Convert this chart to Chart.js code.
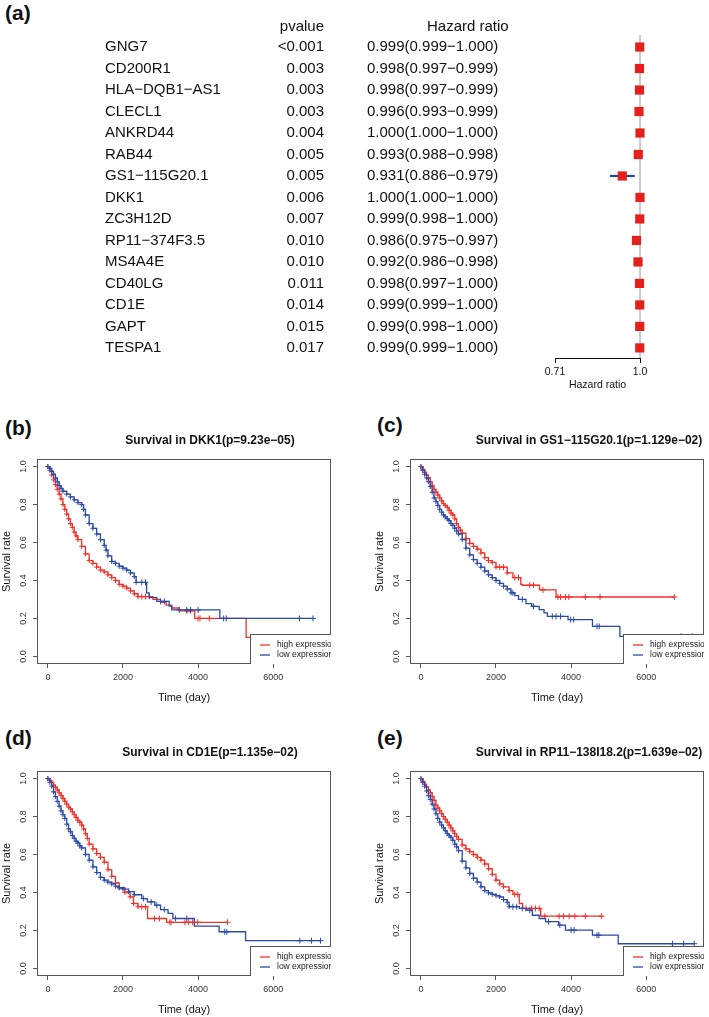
<!DOCTYPE html>
<html>
<head>
<meta charset="utf-8">
<script src="https://cdn.jsdelivr.net/npm/chart.js@4.4.1/dist/chart.umd.min.js"></script>
<style>
body{margin:0;width:709px;height:1017px;overflow:hidden;background:#fff;position:relative;font-family:"Liberation Sans",Arial,sans-serif}
canvas{position:absolute}
.lab{position:absolute;font-weight:bold;font-size:21px;line-height:1;color:#111}
</style>
</head>
<body>
<div class="lab" style="left:5px;top:2px">(a)</div>
<div class="lab" style="left:5px;top:417px">(b)</div>
<div class="lab" style="left:377px;top:414px">(c)</div>
<div class="lab" style="left:5px;top:727px">(d)</div>
<div class="lab" style="left:377px;top:727px">(e)</div>
<canvas id="forest" width="709" height="395" style="left:0;top:0"></canvas>
<canvas id="kmB" width="336" height="294" style="left:0;top:415px"></canvas>
<canvas id="kmC" width="336" height="294" style="left:373px;top:415px"></canvas>
<canvas id="kmD" width="336" height="294" style="left:0;top:727px"></canvas>
<canvas id="kmE" width="336" height="294" style="left:373px;top:727px"></canvas>
<script>
// ---- forest plot data (a) ----
const genes = ['GNG7', 'CD200R1', 'HLA\u2212DQB1\u2212AS1', 'CLECL1', 'ANKRD44', 'RAB44', 'GS1\u2212115G20.1',
  'DKK1', 'ZC3H12D', 'RP11\u2212374F3.5', 'MS4A4E', 'CD40LG', 'CD1E', 'GAPT', 'TESPA1'];
const pvalues = ['<0.001', '0.003', '0.003', '0.003', '0.004', '0.005', '0.005',
  '0.006', '0.007', '0.010', '0.010', '0.011', '0.014', '0.015', '0.017'];
const hr = [0.999, 0.998, 0.998, 0.996, 1.000, 0.993, 0.931, 1.000, 0.999, 0.986, 0.992, 0.998, 0.999, 0.999, 0.999];
const hrLow = [0.999, 0.997, 0.997, 0.993, 1.000, 0.988, 0.886, 1.000, 0.998, 0.975, 0.986, 0.997, 0.999, 0.998, 0.999];
const hrHigh = [1.000, 0.999, 0.999, 0.999, 1.000, 0.998, 0.979, 1.000, 1.000, 0.997, 0.998, 1.000, 1.000, 1.000, 1.000];
const hrTicks = [0.71, 1.0];
const hrTickLabels = ['0.71', '1.0'];

// ---- survival curves: [time, survival] ----
const kmTimeTicks = [0, 2000, 4000, 6000];
const kmRateTicks = [0, 0.2, 0.4, 0.6, 0.8, 1.0];

const dkk1High = [[0,1],[50,0.98],[100,0.955],[150,0.93],[200,0.905],[250,0.88],[300,0.855],[350,0.83],[400,0.80],[450,0.775],[500,0.75],[550,0.725],[600,0.70],[650,0.68],[700,0.655],[750,0.635],[800,0.615],[900,0.58],[1000,0.54],[1100,0.505],[1200,0.49],[1300,0.47],[1400,0.455],[1500,0.445],[1600,0.43],[1700,0.415],[1800,0.40],[1900,0.38],[2000,0.37],[2100,0.36],[2200,0.345],[2300,0.33],[2400,0.315],[2800,0.30],[3000,0.285],[3150,0.27],[3300,0.255],[3500,0.24],[3910,0.2],[5280,0.1],[7250,0.1]];
const dkk1HighCens = [[2500,0.315],[2600,0.315],[2700,0.315],[3700,0.24],[3800,0.24],[4000,0.2],[4050,0.2],[4300,0.2],[7250,0.1]];
const dkk1Low = [[0,1],[50,0.99],[100,0.975],[150,0.96],[200,0.94],[250,0.92],[300,0.90],[350,0.885],[400,0.87],[500,0.855],[600,0.84],[700,0.825],[800,0.81],[900,0.80],[950,0.775],[1000,0.745],[1100,0.70],[1200,0.675],[1300,0.645],[1400,0.615],[1500,0.585],[1550,0.56],[1600,0.53],[1700,0.50],[1800,0.49],[1900,0.475],[2000,0.465],[2100,0.455],[2200,0.44],[2300,0.42],[2350,0.39],[2630,0.335],[2700,0.31],[2900,0.29],[3230,0.265],[3300,0.245],[4580,0.2],[7060,0.2]];
const dkk1LowCens = [[2500,0.39],[2600,0.39],[3000,0.29],[3100,0.29],[3500,0.245],[3700,0.245],[3800,0.245],[4000,0.245],[4680,0.2],[4750,0.2],[6700,0.2],[7060,0.2]];

const gsHigh = [[0,1],[50,0.985],[100,0.97],[150,0.955],[200,0.94],[250,0.92],[300,0.90],[350,0.88],[400,0.865],[450,0.85],[500,0.835],[550,0.82],[600,0.805],[650,0.795],[700,0.785],[750,0.77],[800,0.755],[850,0.745],[900,0.725],[950,0.70],[1000,0.68],[1050,0.665],[1100,0.65],[1200,0.62],[1300,0.595],[1400,0.58],[1500,0.565],[1600,0.545],[1700,0.52],[1800,0.505],[1900,0.495],[2000,0.47],[2300,0.44],[2450,0.415],[2660,0.38],[2700,0.375],[3160,0.35],[3600,0.313],[6750,0.313]];
const gsHighCens = [[2100,0.47],[2200,0.47],[2500,0.415],[2600,0.415],[2900,0.375],[3000,0.375],[3250,0.35],[3650,0.313],[3720,0.313],[3850,0.313],[3940,0.313],[4380,0.313],[4770,0.313],[6750,0.313]];
const gsLow = [[0,1],[50,0.98],[100,0.96],[150,0.94],[200,0.92],[250,0.895],[300,0.865],[350,0.835],[400,0.815],[450,0.795],[500,0.775],[550,0.76],[600,0.745],[650,0.735],[700,0.725],[750,0.715],[800,0.70],[850,0.69],[900,0.675],[950,0.66],[1000,0.645],[1100,0.615],[1200,0.57],[1300,0.535],[1400,0.51],[1500,0.49],[1600,0.47],[1700,0.45],[1800,0.43],[1900,0.415],[2000,0.40],[2100,0.385],[2200,0.37],[2300,0.355],[2400,0.335],[2500,0.32],[2600,0.30],[2800,0.278],[2950,0.264],[3150,0.246],[3280,0.229],[3370,0.211],[3920,0.194],[4570,0.158],[5300,0.106],[7230,0.106]];
const gsLowCens = [[2450,0.335],[2700,0.30],[3000,0.264],[3500,0.211],[3600,0.211],[3720,0.211],[3990,0.194],[4070,0.194],[4690,0.158],[4750,0.158],[6930,0.106],[7230,0.106]];

const cd1eHigh = [[0,1],[50,0.99],[100,0.98],[150,0.965],[200,0.955],[250,0.94],[300,0.925],[350,0.91],[400,0.895],[450,0.88],[500,0.865],[550,0.85],[600,0.84],[650,0.825],[700,0.81],[750,0.795],[800,0.78],[850,0.77],[900,0.755],[950,0.735],[1000,0.71],[1050,0.685],[1100,0.655],[1200,0.63],[1300,0.605],[1400,0.585],[1500,0.56],[1600,0.52],[1700,0.485],[1800,0.45],[1900,0.425],[2050,0.40],[2190,0.377],[2280,0.342],[2400,0.325],[2655,0.263],[3160,0.243],[4780,0.243]];
const cd1eHighCens = [[2500,0.325],[2600,0.325],[2840,0.263],[2970,0.263],[3250,0.243],[3280,0.243],[3650,0.243],[3750,0.243],[3850,0.243],[3990,0.243],[4780,0.243]];
const cd1eLow = [[0,1],[50,0.98],[100,0.96],[150,0.93],[200,0.905],[250,0.88],[300,0.855],[350,0.83],[400,0.81],[450,0.79],[500,0.76],[550,0.735],[600,0.72],[650,0.70],[700,0.685],[750,0.67],[800,0.66],[850,0.645],[900,0.635],[1000,0.60],[1100,0.57],[1200,0.535],[1300,0.505],[1400,0.48],[1500,0.465],[1600,0.455],[1700,0.445],[1800,0.433],[1900,0.425],[2000,0.418],[2150,0.404],[2300,0.388],[2500,0.368],[2650,0.35],[2850,0.333],[3000,0.31],[3200,0.29],[3330,0.263],[3900,0.223],[4560,0.193],[5265,0.146],[7260,0.146]];
const cd1eLowCens = [[2550,0.368],[2750,0.35],[2900,0.333],[3100,0.31],[3400,0.263],[3700,0.263],[4710,0.193],[4765,0.193],[6710,0.146],[7020,0.146],[7260,0.146]];

const rpHigh = [[0,1],[50,0.985],[100,0.97],[150,0.955],[200,0.94],[250,0.925],[300,0.905],[350,0.885],[400,0.86],[450,0.845],[500,0.83],[550,0.815],[600,0.80],[650,0.785],[700,0.77],[750,0.755],[800,0.74],[850,0.725],[900,0.71],[950,0.695],[1000,0.68],[1100,0.65],[1200,0.63],[1300,0.615],[1400,0.60],[1500,0.585],[1600,0.57],[1700,0.55],[1800,0.525],[1900,0.495],[2000,0.465],[2100,0.445],[2200,0.43],[2350,0.41],[2450,0.39],[2620,0.342],[2710,0.316],[3190,0.275],[4815,0.275]];
const rpHighCens = [[2500,0.39],[2580,0.39],[2800,0.316],[2950,0.316],[3050,0.316],[3150,0.316],[3300,0.275],[3680,0.275],[3800,0.275],[3950,0.275],[4100,0.275],[4380,0.275],[4815,0.275]];
const rpLow = [[0,1],[50,0.98],[100,0.96],[150,0.935],[200,0.91],[250,0.89],[300,0.865],[350,0.84],[400,0.815],[450,0.79],[500,0.77],[550,0.755],[600,0.74],[650,0.725],[700,0.71],[750,0.70],[800,0.69],[850,0.675],[900,0.655],[950,0.64],[1000,0.62],[1100,0.565],[1200,0.53],[1300,0.50],[1400,0.475],[1500,0.455],[1600,0.43],[1700,0.41],[1800,0.398],[1900,0.39],[2000,0.383],[2100,0.377],[2200,0.362],[2300,0.348],[2350,0.325],[2620,0.316],[2800,0.307],[2970,0.28],[3150,0.263],[3320,0.246],[3670,0.228],[3850,0.202],[4570,0.175],[5255,0.13],[7280,0.13]];
const rpLowCens = [[2450,0.325],[2550,0.325],[2700,0.316],[2900,0.307],[3400,0.246],[3700,0.228],[4000,0.202],[4080,0.202],[4690,0.175],[4740,0.175],[6700,0.13],[7000,0.13],[7280,0.13]];

const FONT = '"Liberation Sans", Arial, sans-serif';
Chart.defaults.font.family = FONT;
Chart.defaults.animation = false;

const squareRed = '#e3201c';
const ciBlue = '#23419a';
const kmRed = '#f0302a';
const kmBlue = '#2a4aa8';

// forest text columns drawn at the rows of the y scale
const forestText = {
  id: 'forestText',
  afterDraw(chart) {
    const ctx = chart.ctx;
    const y = chart.scales.y;
    ctx.save();
    ctx.fillStyle = '#111';
    ctx.font = '15px ' + FONT;
    ctx.textBaseline = 'middle';
    const hy = y.getPixelForValue(-0.93);
    ctx.textAlign = 'right';
    ctx.fillText('pvalue', 324, hy);
    ctx.textAlign = 'left';
    ctx.fillText('Hazard ratio', 427, hy);
    genes.forEach((g, i) => {
      const py = y.getPixelForValue(i);
      ctx.textAlign = 'left';
      ctx.fillText(g, 105, py);
      ctx.textAlign = 'right';
      ctx.fillText(pvalues[i], 324, py);
      ctx.textAlign = 'left';
      const txt = hr[i].toFixed(3) + '(' + hrLow[i].toFixed(3) + '\u2212' + hrHigh[i].toFixed(3) + ')';
      ctx.fillText(txt, 367, py);
    });
    ctx.restore();
  }
};

new Chart(document.getElementById('forest'), {
  type: 'scatter',
  data: {
    datasets: [
      { data: hr.map((v, i) => ({ x: v, y: i })), pointStyle: 'rect', pointRadius: 6.5,
        backgroundColor: squareRed, borderColor: squareRed, borderWidth: 0, clip: false },
      ...hrLow.map((l, i) => ({ data: [{ x: l, y: i }, { x: hrHigh[i], y: i }], showLine: true,
        borderColor: ciBlue, borderWidth: 2.2, pointRadius: 0, clip: false })),
      { data: [{ x: 1, y: -0.56 }, { x: 1, y: 14.47 }], showLine: true, borderColor: '#c4c4c4',
        borderWidth: 1, pointRadius: 0, clip: false }
    ]
  },
  options: {
    responsive: false,
    layout: { padding: { left: 555, right: 69, top: 35, bottom: 0 } },
    plugins: { legend: { display: false }, tooltip: { enabled: false } },
    scales: {
      x: {
        type: 'logarithmic', min: 0.71, max: 1.0,
        afterBuildTicks: s => { s.ticks = hrTicks.map(v => ({ value: v })); },
        afterFit: s => { s.height = 37; },
        ticks: { callback: (v, i) => hrTickLabels[i], font: { size: 10.5 }, color: '#111', padding: 3, autoSkip: false, maxRotation: 0 },
        grid: { drawOnChartArea: false, drawTicks: true, tickLength: 5, color: '#111' },
        border: { display: true, color: '#111', width: 1 },
        title: { display: true, text: 'Hazard ratio', font: { size: 10.5 }, color: '#111', padding: { top: 0, bottom: 4 } }
      },
      y: { display: false, min: -0.56, max: 14.47, reverse: true }
    }
  },
  plugins: [forestText]
});

function kmChart(id, title, titleShift, high, highCens, low, lowCens) {
  const decor = {
    id: 'kmDecor',
    afterDraw(chart) {
      const ctx = chart.ctx;
      const a = chart.chartArea;
      ctx.save();
      ctx.strokeStyle = '#555';
      ctx.lineWidth = 1;
      ctx.strokeRect(a.left + 0.5, a.top + 0.5, a.right - a.left - 1, a.bottom - a.top - 1);
      ctx.fillStyle = '#111';
      ctx.font = 'bold 12px ' + FONT;
      ctx.textAlign = 'center';
      ctx.textBaseline = 'middle';
      ctx.fillText(title, a.left + titleShift, a.top - 18);
      // legend, clipped at the plot box like the original
      ctx.beginPath();
      ctx.rect(a.left, a.top, a.right - a.left, a.bottom - a.top);
      ctx.clip();
      const lx = a.right - 81, ly = a.bottom - 30;
      ctx.fillStyle = '#fff';
      ctx.fillRect(lx, ly, 90, 30);
      ctx.strokeStyle = '#555';
      ctx.strokeRect(lx + 0.5, ly + 0.5, 90, 30);
      ctx.font = '8.5px ' + FONT;
      ctx.textAlign = 'left';
      [[kmRed, 'high expression', 11], [kmBlue, 'low expression', 21]].forEach(([c, t, dy]) => {
        ctx.strokeStyle = c;
        ctx.lineWidth = 1.3;
        ctx.beginPath();
        ctx.moveTo(lx + 10, ly + dy);
        ctx.lineTo(lx + 20, ly + dy);
        ctx.stroke();
        ctx.fillStyle = '#222';
        ctx.fillText(t, lx + 27, ly + dy);
      });
      ctx.restore();
    }
  };
  const curve = (pts, color) => ({
    data: pts.map(([x, y]) => ({ x, y })), showLine: true, stepped: 'before',
    borderColor: color, borderWidth: 1.3, pointStyle: 'cross',
    pointRadius: c => (c.raw && c.raw.x <= 2400 ? 2.5 : 0),
    pointBorderColor: color, pointBorderWidth: 1
  });
  const cens = (pts, color) => ({
    data: pts.map(([x, y]) => ({ x, y })), showLine: false, pointStyle: 'cross',
    pointRadius: 3, pointBorderColor: color, pointBorderWidth: 1
  });
  new Chart(document.getElementById(id), {
    type: 'scatter',
    data: {
      datasets: [cens(lowCens, kmBlue), curve(low, kmBlue), cens(highCens, kmRed), curve(high, kmRed)]
    },
    options: {
      responsive: false,
      layout: { padding: { left: 0, right: 2, top: 44, bottom: 0 } },
      plugins: { legend: { display: false }, tooltip: { enabled: false } },
      scales: {
        x: {
          type: 'linear', min: -290, max: 7540,
          afterBuildTicks: s => { s.ticks = kmTimeTicks.map(v => ({ value: v })); },
          afterFit: s => { s.height = 45; },
          ticks: { callback: v => String(v), font: { size: 9 }, color: '#333', padding: 4, autoSkip: false, maxRotation: 0 },
          grid: { drawOnChartArea: false, drawTicks: true, tickLength: 4, color: '#555' },
          border: { display: false },
          title: { display: true, text: 'Time (day)', font: { size: 11 }, color: '#111', padding: { top: 0, bottom: 4 } }
        },
        y: {
          type: 'linear', min: -0.04, max: 1.04,
          afterBuildTicks: s => { s.ticks = kmRateTicks.map(v => ({ value: v })); },
          afterFit: s => { s.width = 37; },
          ticks: { callback: v => v.toFixed(1), font: { size: 9 }, color: '#333', padding: 3,
            minRotation: 90, maxRotation: 90, crossAlign: 'center', autoSkip: false },
          grid: { drawOnChartArea: false, drawTicks: true, tickLength: 4, color: '#555' },
          border: { display: false },
          title: { display: true, text: 'Survival rate', font: { size: 11 }, color: '#111', padding: 0 }
        }
      }
    },
    plugins: [decor]
  });
}

kmChart('kmB', 'Survival in DKK1(p=9.23e\u221205)', 173, dkk1High, dkk1HighCens, dkk1Low, dkk1LowCens);
kmChart('kmC', 'Survival in GS1\u2212115G20.1(p=1.129e\u221202)', 179, gsHigh, gsHighCens, gsLow, gsLowCens);
kmChart('kmD', 'Survival in CD1E(p=1.135e\u221202)', 173, cd1eHigh, cd1eHighCens, cd1eLow, cd1eLowCens);
kmChart('kmE', 'Survival in RP11\u2212138I18.2(p=1.639e\u221202)', 179, rpHigh, rpHighCens, rpLow, rpLowCens);
</script>
</body>
</html>
